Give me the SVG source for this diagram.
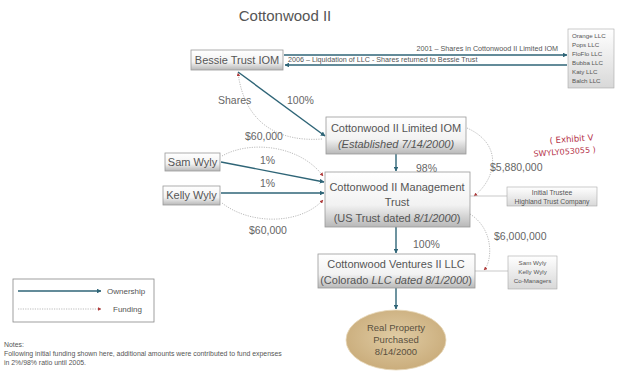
<svg xmlns="http://www.w3.org/2000/svg" width="623" height="375" viewBox="0 0 623 375">
<defs>
<linearGradient id="boxg" x1="0" y1="0" x2="0" y2="1">
<stop offset="0" stop-color="#ffffff"/>
<stop offset="0.6" stop-color="#f2f2f2"/>
<stop offset="1" stop-color="#b8b8b8"/>
</linearGradient>
<linearGradient id="smallg" x1="0" y1="0" x2="0" y2="1">
<stop offset="0" stop-color="#ffffff"/>
<stop offset="1" stop-color="#d8d8d8"/>
</linearGradient>
<radialGradient id="tan" cx="0.5" cy="0.45" r="0.6">
<stop offset="0" stop-color="#e0cca4"/>
<stop offset="1" stop-color="#c8aa78"/>
</radialGradient>
<marker id="own" viewBox="0 0 10 10" refX="9" refY="5" markerWidth="3.4" markerHeight="3.4" orient="auto">
<path d="M0,0 L10,5 L0,10 z" fill="#2f6577"/>
</marker>
<marker id="fund" viewBox="0 0 10 10" refX="9" refY="5" markerWidth="4.5" markerHeight="4.5" orient="auto">
<path d="M0,0 L10,5 L0,10 z" fill="#b03a3a"/>
</marker>
</defs>
<style>
text{font-family:"Liberation Sans",Arial,sans-serif;fill:#555}
.box{fill:url(#boxg);stroke:#9a9a9a;stroke-width:0.8}
.sbox{fill:url(#smallg);stroke:#a8a8a8;stroke-width:0.6}
.own{fill:none;stroke:#2f6577;stroke-width:1.4;marker-end:url(#own)}
.fund{fill:none;stroke:#aaa;stroke-width:0.8;stroke-dasharray:1.2 1.2;marker-end:url(#fund)}
.link{fill:none;stroke:#bbb;stroke-width:0.8}
.big{font-size:11px}
.lbl{font-size:10.5px;fill:#666}
.tiny{font-size:6.2px}
.small{font-size:7.2px}
.box7{font-size:6.8px}
.note{font-size:6.9px}
.it{font-style:italic}
</style>
<rect width="623" height="375" fill="#fff"/>
<text x="285" y="21" text-anchor="middle" style="font-size:15px">Cottonwood II</text>

<g id="connectors">
<path class="own" d="M284,55 L567,55"/>
<path class="own" d="M567,65 L285,65"/>
<path class="own" d="M238,72 L325,136"/>
<path class="fund" d="M322,139 C280,142 245,125 238,73"/>
<path class="own" d="M221,162 L324,182"/>
<path class="own" d="M221,193 L324,193"/>
<path class="fund" d="M222,156 C250,140 300,145 323,176"/>
<path class="fund" d="M222,203 C250,225 300,225 323,200"/>
<path class="own" d="M396,154 L396,171"/>
<path class="fund" d="M467,128 C505,145 495,180 474,196"/>
<path class="link" d="M470,196 L507,196"/>
<path class="own" d="M396,227 L396,253"/>
<path class="fund" d="M470,214 C495,230 492,262 484,270"/>
<path class="link" d="M475,271 L508,271"/>
<path class="own" d="M396,288 L396,309"/>
</g>

<text x="558" y="51" text-anchor="end" class="small">2001 – Shares in Cottonwood II Limited IOM</text>
<text x="288" y="62" class="small">2006 – Liquidation of LLC - Shares returned to Bessie Trust</text>
<text x="218" y="104" class="lbl">Shares</text>
<text x="287" y="104" class="lbl">100%</text>
<text x="245" y="140" class="lbl">$60,000</text>
<text x="260" y="164" class="lbl">1%</text>
<text x="260" y="187" class="lbl">1%</text>
<text x="249" y="234" class="lbl">$60,000</text>
<text x="416" y="172" class="lbl">98%</text>
<text x="490" y="171" class="lbl">$5,880,000</text>
<text x="413" y="248" class="lbl">100%</text>
<text x="494" y="240" class="lbl">$6,000,000</text>

<g id="bessie">
<rect class="box" x="191" y="50" width="92" height="20"/>
<text x="237" y="64" text-anchor="middle" class="big">Bessie Trust IOM</text>
</g>

<g id="llcs">
<rect class="sbox" x="568" y="29" width="46" height="59"/>
<text class="tiny" x="572" y="38">Orange LLC</text>
<text class="tiny" x="572" y="47">Pops LLC</text>
<text class="tiny" x="572" y="56">FloFlo LLC</text>
<text class="tiny" x="572" y="65">Bubba LLC</text>
<text class="tiny" x="572" y="74">Katy LLC</text>
<text class="tiny" x="572" y="83">Balch LLC</text>
</g>

<g id="limited">
<rect class="box" x="326" y="117" width="140" height="37"/>
<text x="396" y="132" text-anchor="middle" class="big">Cottonwood II Limited IOM</text>
<text x="396" y="148" text-anchor="middle" class="big it">(Established 7/14/2000)</text>
</g>

<g id="sam">
<rect class="box" x="165" y="153" width="55" height="18"/>
<text x="192.5" y="166" text-anchor="middle" class="big">Sam Wyly</text>
</g>

<g id="kelly">
<rect class="box" x="163" y="186" width="57" height="19"/>
<text x="191.5" y="199" text-anchor="middle" class="big">Kelly Wyly</text>
</g>

<g id="mgmt">
<rect class="box" x="325" y="172" width="145" height="55"/>
<text x="397" y="191" text-anchor="middle" class="big">Cottonwood II Management</text>
<text x="397" y="206" text-anchor="middle" class="big">Trust</text>
<text x="397" y="222" text-anchor="middle" class="big">(US Trust dated <tspan class="it">8/1/2000</tspan>)</text>
</g>

<g id="trustee">
<rect class="sbox" x="507" y="187" width="90" height="19"/>
<text class="box7" x="552" y="195" text-anchor="middle">Initial Trustee</text>
<text class="box7" x="552" y="203.5" text-anchor="middle">Highland Trust Company</text>
</g>

<g id="ventures">
<rect class="box" x="318" y="254" width="157" height="34"/>
<text x="396" y="268" text-anchor="middle" class="big">Cottonwood Ventures II LLC</text>
<text x="396" y="284" text-anchor="middle" class="big">(Colorado <tspan class="it">LLC dated 8/1/2000</tspan>)</text>
</g>

<g id="managers">
<rect class="sbox" x="508" y="256" width="49" height="33"/>
<text class="tiny" x="532.5" y="265" text-anchor="middle">Sam Wyly</text>
<text class="tiny" x="532.5" y="274" text-anchor="middle">Kelly Wyly</text>
<text class="tiny" x="532.5" y="283" text-anchor="middle">Co-Managers</text>
</g>

<g id="property">
<ellipse cx="396" cy="340" rx="50" ry="30" fill="url(#tan)" stroke="#e8d9bb" stroke-width="0.8"/>
<text x="396" y="331" text-anchor="middle" style="font-size:9.5px;fill:#5a5040">Real Property</text>
<text x="396" y="343" text-anchor="middle" style="font-size:9.5px;fill:#5a5040">Purchased</text>
<text x="396" y="355" text-anchor="middle" style="font-size:9.5px;fill:#5a5040">8/14/2000</text>
</g>

<g id="legend">
<rect x="13" y="279" width="141" height="43" fill="#fff" stroke="#888" stroke-width="0.8"/>
<path class="own" d="M18,291 L101,291"/>
<path class="fund" d="M18,309 L101,309"/>
<text x="107" y="294" style="font-size:8px">Ownership</text>
<text x="113" y="312" style="font-size:8px">Funding</text>
</g>

<g id="notes">
<text class="note" x="4" y="347">Notes:</text>
<text class="note" x="4" y="356">Following initial funding shown here, additional amounts were contributed to fund expenses</text>
<text class="note" x="4" y="365">in 2%/98% ratio until 2005.</text>
</g>

<g id="stamp" transform="rotate(-4 570 145)">
<text x="550" y="142" style="font-size:8.5px;fill:#b5334a;font-family:'DejaVu Sans',sans-serif">( Exhibit V</text>
<text x="533" y="154" style="font-size:8px;fill:#b5334a;font-family:'DejaVu Sans',sans-serif">SWYLY053055 )</text>
</g>
</svg>
